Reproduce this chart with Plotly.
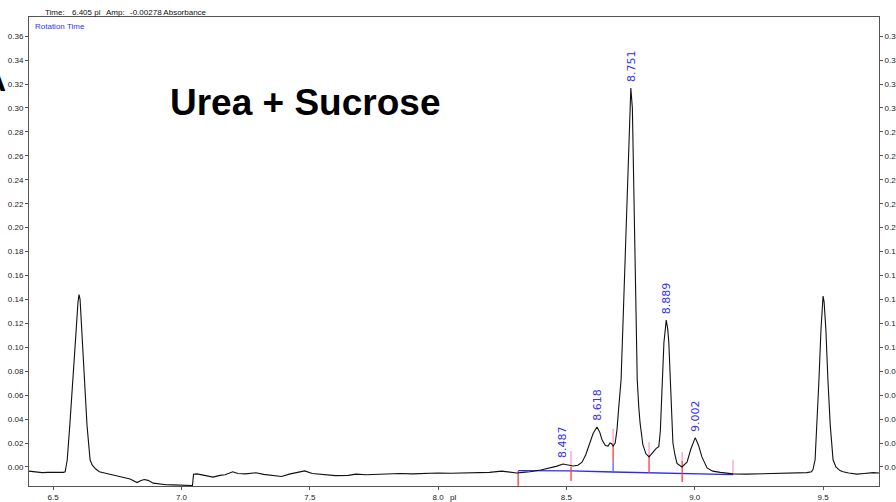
import plotly.graph_objects as go

# ---------------- data ----------------
rt = [6.406, 6.42, 6.44, 6.457, 6.48, 6.50, 6.52, 6.54, 6.547, 6.555, 6.565, 6.578, 6.59, 6.597,
      6.601, 6.605, 6.612, 6.621, 6.632, 6.644, 6.652, 6.665, 6.68, 6.70, 6.73, 6.76, 6.80, 6.827,
      6.84, 6.855, 6.87, 6.89, 6.917, 6.94, 6.967, 6.99, 7.03, 7.043, 7.047, 7.06, 7.09, 7.123,
      7.15, 7.17, 7.20, 7.22, 7.25, 7.29, 7.32, 7.36, 7.39, 7.42, 7.46, 7.48, 7.51, 7.55, 7.60,
      7.65, 7.68, 7.72, 7.78, 7.85, 7.90, 7.95, 8.00, 8.05, 8.10, 8.15, 8.20, 8.247, 8.28, 8.307,
      8.33, 8.358, 8.40, 8.436, 8.46, 8.487, 8.505, 8.526, 8.545, 8.561, 8.575, 8.592, 8.604,
      8.619, 8.63, 8.639, 8.652, 8.662, 8.670, 8.676, 8.682, 8.690, 8.697, 8.704, 8.713, 8.72,
      8.728, 8.736, 8.745, 8.751, 8.757, 8.763, 8.767, 8.771, 8.776, 8.782, 8.787, 8.798, 8.810,
      8.822, 8.837, 8.850, 8.860, 8.866, 8.872, 8.880, 8.889, 8.895, 8.899, 8.907, 8.915, 8.923,
      8.931, 8.950, 8.970, 8.985, 9.002, 9.015, 9.028, 9.048, 9.07, 9.10, 9.149, 9.20, 9.25,
      9.305, 9.35, 9.40, 9.437, 9.455, 9.461, 9.469, 9.476, 9.484, 9.492, 9.497, 9.500, 9.504,
      9.511, 9.519, 9.528, 9.539, 9.55, 9.566, 9.578, 9.60, 9.632, 9.66, 9.695, 9.718]
absorbance = [-0.0035, -0.0040, -0.0042, -0.0047, -0.0045, -0.0046, -0.0044, -0.0045, -0.0040,
              0.006, 0.035, 0.0727, 0.115, 0.138, 0.1440, 0.140, 0.115, 0.0727, 0.035, 0.006,
              0.0017, -0.0015, -0.0040, -0.0050, -0.0065, -0.0080, -0.0100, -0.0130, -0.0115,
              -0.0105, -0.0112, -0.0135, -0.0145, -0.0148, -0.0150, -0.0152, -0.0155, -0.0155,
              -0.0060, -0.0058, -0.0070, -0.0085, -0.0070, -0.0065, -0.0040, -0.0055, -0.0058,
              -0.0048, -0.0062, -0.0075, -0.0080, -0.0060, -0.0042, -0.0033, -0.0055, -0.0065,
              -0.0072, -0.0070, -0.0060, -0.0065, -0.0060, -0.0055, -0.0058, -0.0052, -0.0050,
              -0.0052, -0.0050, -0.0048, -0.0045, -0.0035, -0.0045, -0.0050, -0.0045, -0.0040,
              -0.0025, -0.0010, 0.0005, 0.0025, 0.0020, 0.0008, 0.0015, 0.0040, 0.0100, 0.0200,
              0.0280, 0.0334, 0.0290, 0.0225, 0.0180, 0.0175, 0.0200, 0.0195, 0.0175, 0.0200,
              0.0310, 0.0500, 0.0727, 0.117, 0.170, 0.229, 0.290, 0.3166, 0.300, 0.229, 0.170,
              0.117, 0.0727, 0.0500, 0.0368, 0.0184, 0.0110, 0.0084, 0.0125, 0.0155, 0.0170,
              0.030, 0.062, 0.104, 0.1228, 0.115, 0.104, 0.062, 0.020, 0.0100, 0.0030, 0.0000,
              0.0040, 0.0150, 0.0245, 0.0180, 0.0084, -0.0008, -0.0035, -0.0045, -0.0058,
              -0.0060, -0.0058, -0.0053, -0.0050, -0.0048, -0.0047, -0.0040, -0.0020, 0.006,
              0.035, 0.0727, 0.115, 0.138, 0.1428, 0.138, 0.115, 0.0727, 0.035, 0.006, 0.000,
              -0.0030, -0.0040, -0.0050, -0.0060, -0.0055, -0.0047, -0.0050]

peak_rt = [8.487, 8.618, 8.751, 8.889, 9.002]
peak_height = [0.0025, 0.0334, 0.3166, 0.1228, 0.0245]
peak_labels = ["8.487", "8.618", "8.751", "8.889", "9.002"]

baseline_rt = [8.312, 8.518, 8.682, 8.822, 8.951, 9.149]
baseline_y = [-0.0031, -0.0033, -0.0042, -0.0050, -0.0054, -0.0064]

marker_rt = [8.312, 8.518, 8.682, 8.822, 8.951, 9.149]
pink_top = [None, 0.0134, 0.0318, 0.0209, 0.0125, 0.0058]
pink_bot = [None, 0.0000, 0.0184, 0.0100, 0.0050, -0.0058]
red_top = [-0.0033, 0.0000, 0.0184, 0.0100, 0.0050, None]
red_bot = [-0.0159, -0.0117, 0.0050, -0.0050, -0.0125, None]
blue_top = [None, None, 0.0050, None, None, None]
blue_bot = [None, None, -0.0042, None, None, None]

y_ticks = [0.00, 0.02, 0.04, 0.06, 0.08, 0.10, 0.12, 0.14, 0.16, 0.18, 0.20, 0.22, 0.24,
           0.26, 0.28, 0.30, 0.32, 0.34, 0.36]
x_ticks = [6.5, 7.0, 7.5, 8.0, 8.5, 9.0, 9.5]

x_range = [6.406, 9.718]
y_range = [-0.0159, 0.376]

# ---------------- figure ----------------
W, H = 896, 502
ML, MR, MT, MB = 29, 17, 17, 16
PW, PH = W - ML - MR, H - MT - MB


def px(xp):
    return (xp - ML) / PW


def py(yp):
    return (H - MB - yp) / PH


def segments(xs, tops, bots):
    sx, sy = [], []
    for x, t, b in zip(xs, tops, bots):
        if t is None or b is None:
            continue
        sx += [x, x, None]
        sy += [t, b, None]
    return sx, sy


fig = go.Figure()

fig.add_trace(go.Scatter(x=baseline_rt, y=baseline_y, mode="lines",
                         line=dict(color="#2a2aff", width=1.3), hoverinfo="skip", showlegend=False))

for tops, bots, col in [(pink_top, pink_bot, "#ff99cc"),
                        (red_top, red_bot, "#ff3a3a"),
                        (blue_top, blue_bot, "#6060ff")]:
    sx, sy = segments(marker_rt, tops, bots)
    fig.add_trace(go.Scatter(x=sx, y=sy, mode="lines", line=dict(color=col, width=1.3),
                             hoverinfo="skip", showlegend=False, connectgaps=False))

fig.add_trace(go.Scatter(x=rt, y=absorbance, mode="lines",
                         line=dict(color="#111111", width=1.1), showlegend=False))

# invisible copy on the right axis so it gets drawn
fig.add_trace(go.Scatter(x=rt, y=absorbance, yaxis="y2", mode="lines", opacity=0,
                         hoverinfo="skip", showlegend=False))

tickfont = dict(family="Liberation Sans, Arial, sans-serif", size=8, color="#222222")
axis_common = dict(showline=True, linecolor="#555555", linewidth=1, ticks="outside",
                   ticklen=3, tickcolor="#555555", showgrid=False, zeroline=False,
                   tickfont=tickfont, automargin=False)

fig.update_layout(
    width=W, height=H,
    margin=dict(l=ML, r=MR, t=MT, b=MB, autoexpand=False),
    paper_bgcolor="white", plot_bgcolor="white",
    xaxis=dict(range=x_range, tickvals=x_ticks, tickformat=".1f", mirror=True, **axis_common),
    yaxis=dict(range=y_range, tickvals=y_ticks, tickformat=".2f", mirror=True, **axis_common),
    yaxis2=dict(range=y_range, tickvals=y_ticks, tickformat=".2f", overlaying="y", side="right",
                **axis_common),
)

annotations = []
for x, y, t in zip(peak_rt, peak_height, peak_labels):
    annotations.append(dict(x=x, y=y, xref="x", yref="y", text=t, showarrow=False,
                            textangle=-90, xanchor="center", yanchor="bottom", yshift=4,
                            font=dict(family="DejaVu Sans, sans-serif", size=11, color="#3030ff")))

hdr_font = dict(family="Liberation Sans, Arial, sans-serif", size=8, color="#111111")
for xp, t in [(43, "Time:"), (70, "6.405 pl"), (104, "Amp:"), (128, "-0.00278 Absorbance")]:
    annotations.append(dict(x=px(xp), y=py(12), xref="paper", yref="paper", text=t,
                            showarrow=False, xanchor="left", yanchor="middle", font=hdr_font))

annotations.append(dict(x=px(33), y=py(26), xref="paper", yref="paper", text="Rotation Time",
                        showarrow=False, xanchor="left", yanchor="middle",
                        font=dict(family="Liberation Sans, Arial, sans-serif", size=8,
                                  color="#3030ff")))

annotations.append(dict(x=px(453), y=py(497), xref="paper", yref="paper", text="pl",
                        showarrow=False, xanchor="center", yanchor="middle", font=hdr_font))

annotations.append(dict(x=px(168), y=py(102), xref="paper", yref="paper",
                        text="<b>Urea + Sucrose</b>", showarrow=False, xanchor="left",
                        yanchor="middle",
                        font=dict(family="Liberation Sans, Arial, sans-serif", size=37,
                                  color="#000000")))

annotations.append(dict(x=px(8), y=py(80), xref="paper", yref="paper", text="<b>A</b>",
                        showarrow=False, xanchor="right", yanchor="middle",
                        font=dict(family="Liberation Sans, Arial, sans-serif", size=32,
                                  color="#000000")))

fig.update_layout(annotations=annotations)

fig.write_html("out.html", config={"displayModeBar": False},
               post_script="document.body.style.margin='0';document.body.style.overflow='hidden';")
